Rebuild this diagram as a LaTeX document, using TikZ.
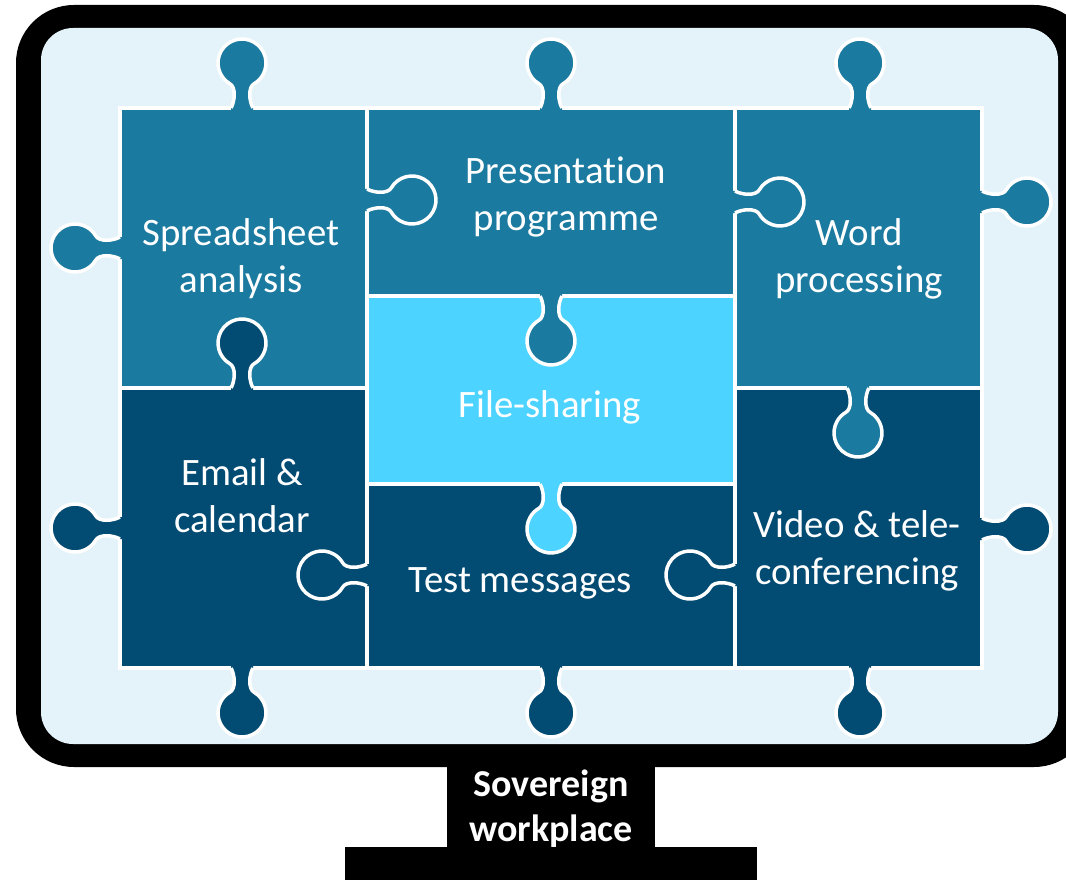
\documentclass[tikz,border=0pt]{standalone}
\usepackage{fontspec}
\setmainfont{Carlito}[Ligatures=NoCommon]
\definecolor{midblue}{RGB}{27,122,159}
\definecolor{darkblue}{RGB}{2,75,115}
\definecolor{lightcyan}{RGB}{77,211,255}
\definecolor{bglight}{RGB}{228,243,250}
\newcommand\knob[4]{%
  \begin{scope}[shift={(#1,#2)},rotate=#3]
    \fill[#4] (-4,-11) -- (0,-11) .. controls (7,-7) and (20.7,-6) .. (24.2,-12)
      arc[start angle=210,end angle=510,radius=24]
      .. controls (20.7,6) and (7,7) .. (0,11) -- (-4,11) -- cycle;
    \draw[white,line width=3.5pt] (0,-11) .. controls (7,-7) and (20.7,-6) .. (24.2,-12)
      arc[start angle=210,end angle=510,radius=24]
      .. controls (20.7,6) and (7,7) .. (0,11);
  \end{scope}}
\tikzset{
  piece/.style={draw=white,line width=3.5pt},
  txt/.style={text=white,align=center,font=\fontsize{38.8}{47}\selectfont,inner sep=0pt},
  stxt/.style={text=white,align=center,font=\bfseries\fontsize{38}{45}\selectfont,inner sep=0pt}
}
\begin{document}
\begin{tikzpicture}[x=1pt,y=-1pt]
\useasboundingbox (0,0) rectangle (1066,880);
\fill[white] (0,0) rectangle (1066,880);
\clip (0,0) rectangle (1066,880);
% monitor
\fill[black, rounded corners=58pt] (16,5) rectangle (1092,767);
\fill[bglight, rounded corners=32pt] (41,28) rectangle (1058,744);
\fill[black] (447,760) rectangle (655,847);
\fill[black] (345,847) rectangle (757,880);
% pieces
\draw[piece,fill=midblue] (120,108) rectangle (367,388);
\draw[piece,fill=midblue] (367,108) rectangle (735,296);
\draw[piece,fill=midblue] (735,108) rectangle (982,388);
\draw[piece,fill=darkblue] (120,388) rectangle (367,668);
\draw[piece,fill=lightcyan] (367,296) rectangle (735,484);
\draw[piece,fill=darkblue] (367,484) rectangle (735,668);
\draw[piece,fill=darkblue] (735,388) rectangle (982,668);
% outer knobs
\knob{242}{108}{90}{midblue}
\knob{551}{108}{90}{midblue}
\knob{860}{108}{90}{midblue}
\knob{120}{248}{180}{midblue}
\knob{120}{528}{180}{darkblue}
\knob{982}{202}{0}{midblue}
\knob{982}{529}{0}{darkblue}
\knob{242}{668}{-90}{darkblue}
\knob{551}{668}{-90}{darkblue}
\knob{860}{668}{-90}{darkblue}
% inner knobs
\knob{367}{200}{0}{midblue}
\knob{735}{202}{0}{midblue}
\knob{242}{388}{90}{darkblue}
\knob{551}{296}{-90}{midblue}
\knob{551}{484}{-90}{lightcyan}
\knob{858}{388}{-90}{midblue}
\knob{367}{575}{180}{darkblue}
\knob{735}{575}{180}{darkblue}
% labels
\node[txt] (ss) at (241,259) {Spreadsheet\\analysis};
\node[txt] (pp) at (566,197) {Presentation\\programme};
\node[txt] (wp) at (859,259) {Word\\processing};
\node[txt] (fs) at (550,407) {File-sharing};
\node[txt] (ec) at (242,496) {Email \&\\calendar};
\node[txt] (tm) at (520,583) {Test messages};
\node[txt] (vt) at (857,551) {Video \& tele-\\conferencing};
\node[stxt] (sw) at (551,809) {Sovereign\\workplace};
\end{tikzpicture}
\end{document}
